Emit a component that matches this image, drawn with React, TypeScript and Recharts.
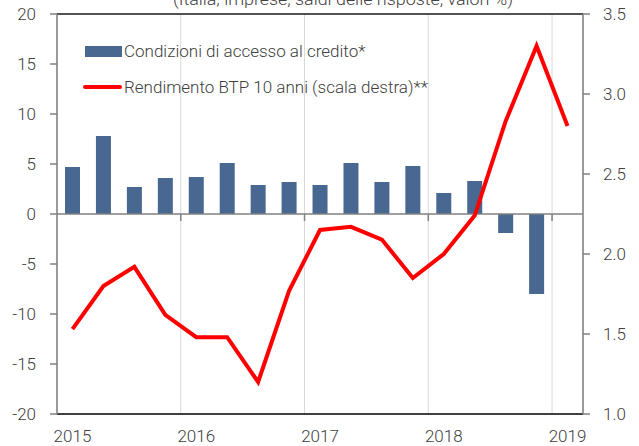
import React from "react";
import {
  ComposedChart,
  Bar,
  Line,
  XAxis,
  YAxis,
  CartesianGrid,
  ReferenceLine,
  Legend,
} from "recharts";

const categories = [
  "I 2015", "II 2015", "III 2015", "IV 2015",
  "I 2016", "II 2016", "III 2016", "IV 2016",
  "I 2017", "II 2017", "III 2017", "IV 2017",
  "I 2018", "II 2018", "III 2018", "IV 2018",
  "I 2019",
];
const credito: (number | null)[] = [
  4.7, 7.8, 2.7, 3.6, 3.7, 5.1, 2.9, 3.2, 2.9, 5.1, 3.2, 4.8, 2.1, 3.3, -1.9, -8.0, null,
];
const btp = [
  1.53, 1.8, 1.92, 1.62, 1.48, 1.48, 1.2, 1.77, 2.15, 2.17, 2.09, 1.85, 2.0, 2.24, 2.83, 3.3, 2.8,
];
const yearTicks = ["I 2015", "I 2016", "I 2017", "I 2018", "I 2019"];
const yearBoundaries = [3.5, 7.5, 11.5, 15.5];
const leftTicks = [-20, -15, -10, -5, 0, 5, 10, 15, 20];
const rightTicks = [1.0, 1.5, 2.0, 2.5, 3.0, 3.5];
const seriesNames = {
  credito: "Condizioni di accesso al credito*",
  btp: "Rendimento BTP 10 anni (scala destra)**",
};
const title = "(Italia, imprese; saldi delle risposte; valori %)";

const data = categories.map((c, i) => ({ q: c, i, credito: credito[i], btp: btp[i] }));

const FONT = "Roboto, 'Noto Sans', sans-serif";
const TEXT = "#404040";
const AXIS = "#808080";
const BLUE = "#486791";
const RED = "#ff0000";

const LegendContent = (props: any) => {
  const payload = props.payload || [];
  return (
    <div style={{ fontFamily: FONT, fontWeight: 300, fontSize: 17, color: TEXT }}>
      {payload.map((p: any, i: number) => (
        <div key={i} style={{ display: "flex", alignItems: "center", height: 36 }}>
          {p.type === "rect" ? (
            <div style={{ width: 37, height: 11, background: BLUE, marginLeft: 2 }} />
          ) : (
            <div style={{ width: 39, height: 4, background: RED, borderRadius: 2 }} />
          )}
          <span style={{ marginLeft: 2, whiteSpace: "nowrap" }}>{p.value}</span>
        </div>
      ))}
    </div>
  );
};

export default function App() {
  return (
    <div style={{ position: "absolute", left: 0, top: 0, width: 639, height: 446, background: "#fff" }}>
      <svg width={639} height={20} style={{ position: "absolute", left: 0, top: 0, overflow: "hidden" }}>
        <text
          x={343}
          y={5}
          textAnchor="middle"
          fontFamily={FONT}
          fontWeight={300}
          fontSize={16}
          fill={TEXT}
          textLength={340}
          lengthAdjust="spacingAndGlyphs"
        >
          {title}
        </text>
      </svg>
      <ComposedChart
        width={639}
        height={446}
        data={data}
        margin={{ top: 14, right: 0, bottom: 0, left: 0 }}
        barSize={15}
        style={{ fontFamily: FONT }}
      >
        <XAxis
          xAxisId="g"
          dataKey="i"
          type="number"
          domain={[-0.5, 16.5]}
          ticks={yearBoundaries}
          hide
          allowDataOverflow
        />
        <CartesianGrid xAxisId="g" yAxisId="left" horizontal={false} stroke="#d9d9d9" strokeWidth={1} />
        <XAxis
          dataKey="q"
          ticks={yearTicks}
          interval={0}
          tickFormatter={(v: string) => v.split(" ")[1]}
          axisLine={false}
          tickLine={false}
          tickSize={6}
          tickMargin={10}
          height={32}
          tick={{ fill: TEXT, fontSize: 17, fontWeight: 300, fontFamily: FONT }}
        />
        <YAxis
          yAxisId="left"
          domain={[-20, 20]}
          ticks={leftTicks}
          interval={0}
          width={57}
          tickSize={7}
          tickMargin={14}
          axisLine={{ stroke: AXIS, strokeWidth: 1.5 }}
          tickLine={{ stroke: AXIS, strokeWidth: 1.5 }}
          tick={{ fill: TEXT, fontSize: 17, fontWeight: 300, fontFamily: FONT }}
        />
        <YAxis
          yAxisId="right"
          orientation="right"
          domain={[1, 3.5]}
          ticks={rightTicks}
          interval={0}
          width={56}
          tickSize={7}
          tickMargin={13}
          tickFormatter={(v: number) => v.toFixed(1)}
          axisLine={{ stroke: AXIS, strokeWidth: 1.5 }}
          tickLine={{ stroke: AXIS, strokeWidth: 1.5 }}
          tick={{ fill: TEXT, fontSize: 17, fontWeight: 300, fontFamily: FONT, textAnchor: "start" }}
        />
        <ReferenceLine yAxisId="left" y={20} stroke="#1a1a1a" strokeWidth={1.5} />
        <ReferenceLine yAxisId="left" y={-20} stroke="#404040" strokeWidth={2} />
        {yearBoundaries.map((b) => (
          <ReferenceLine
            key={b}
            xAxisId="g"
            yAxisId="left"
            segment={[{ x: b, y: 0 }, { x: b, y: -0.7 }]}
            stroke={AXIS}
            strokeWidth={1.5}
          />
        ))}
        <Legend
          layout="horizontal"
          verticalAlign="middle"
          align="center"
          content={<LegendContent />}
          wrapperStyle={{ top: 33, left: 83, width: 500 }}
        />
        <Bar
          yAxisId="left"
          dataKey="credito"
          name={seriesNames.credito}
          fill={BLUE}
          legendType="rect"
          isAnimationActive={false}
        />
        <ReferenceLine yAxisId="left" y={0} stroke={AXIS} strokeWidth={1.5} />
        <Line
          yAxisId="right"
          dataKey="btp"
          name={seriesNames.btp}
          stroke={RED}
          strokeWidth={4}
          dot={false}
          legendType="line"
          strokeLinejoin="miter"
          isAnimationActive={false}
        />
      </ComposedChart>
    </div>
  );
}
